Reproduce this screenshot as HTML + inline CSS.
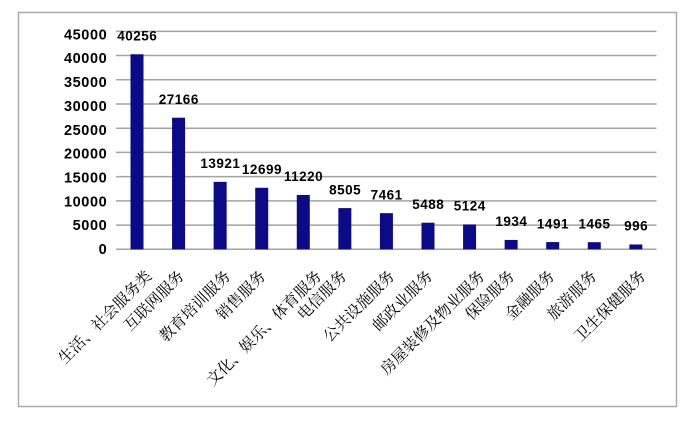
<!DOCTYPE html>
<html>
<head>
<meta charset="utf-8">
<style>
  html,body{margin:0;padding:0;background:#fff;}
  svg{display:block;}
  .yl{font-family:"Liberation Sans",Arial,sans-serif;font-weight:bold;font-size:14.5px;letter-spacing:0.6px;fill:#000;}
  .dl{font-family:"Liberation Sans",Arial,sans-serif;font-weight:bold;font-size:13.5px;letter-spacing:0.5px;fill:#000;}
  .cl{font-family:"Liberation Serif","Noto Serif CJK SC","Noto Sans CJK SC",serif;font-size:15.5px;fill:#000;}
</style>
</head>
<body>
<svg width="700" height="423" viewBox="0 0 700 423" xmlns="http://www.w3.org/2000/svg">
  <rect x="0" y="0" width="700" height="423" fill="#fff"/>
  <!-- frame -->
  <rect x="18.5" y="12.5" width="658" height="394" fill="#fff" stroke="#ababab" stroke-width="1.5"/>

  <!-- gridlines -->
  <g stroke="#a3a3a3" stroke-width="1.5">
    <line x1="116" x2="656.5" y1="249.3" y2="249.3"/>
    <line x1="116" x2="656.5" y1="225.08" y2="225.08"/>
    <line x1="116" x2="656.5" y1="200.86" y2="200.86"/>
    <line x1="116" x2="656.5" y1="176.64" y2="176.64"/>
    <line x1="116" x2="656.5" y1="152.42" y2="152.42"/>
    <line x1="116" x2="656.5" y1="128.2" y2="128.2"/>
    <line x1="116" x2="656.5" y1="103.98" y2="103.98"/>
    <line x1="116" x2="656.5" y1="79.76" y2="79.76"/>
    <line x1="116" x2="656.5" y1="55.54" y2="55.54"/>
    <line x1="116" x2="656.5" y1="31.32" y2="31.32"/>
  </g>

  <!-- y labels -->
  <g class="yl" text-anchor="end">
    <text x="107.3" y="254">0</text>
    <text x="107.3" y="230.15">5000</text>
    <text x="107.3" y="206.3">10000</text>
    <text x="107.3" y="182.45">15000</text>
    <text x="107.3" y="158.6">20000</text>
    <text x="107.3" y="134.75">25000</text>
    <text x="107.3" y="110.9">30000</text>
    <text x="107.3" y="87.05">35000</text>
    <text x="107.3" y="63.2">40000</text>
    <text x="107.3" y="39.35">45000</text>
  </g>

  <!-- bars -->
  <g fill="#0b0b8a">
    <rect x="130.5" y="54.28" width="13" height="195.02"/>
    <rect x="172.07" y="117.70" width="13" height="131.60"/>
    <rect x="213.64" y="181.86" width="13" height="67.44"/>
    <rect x="255.21" y="187.78" width="13" height="61.52"/>
    <rect x="296.78" y="194.95" width="13" height="54.35"/>
    <rect x="338.35" y="208.10" width="13" height="41.20"/>
    <rect x="379.92" y="213.16" width="13" height="36.14"/>
    <rect x="421.49" y="222.71" width="13" height="26.59"/>
    <rect x="463.06" y="224.48" width="13" height="24.82"/>
    <rect x="504.63" y="239.93" width="13" height="9.37"/>
    <rect x="546.20" y="242.08" width="13" height="7.22"/>
    <rect x="587.77" y="242.20" width="13" height="7.10"/>
    <rect x="629.34" y="244.47" width="13" height="4.83"/>
  </g>

  <!-- data labels -->
  <g class="dl" text-anchor="middle">
    <text x="137.25" y="40.5">40256</text>
    <text x="178.82" y="103.9">27166</text>
    <text x="220.39" y="168.06">13921</text>
    <text x="261.96" y="173.98">12699</text>
    <text x="303.53" y="181.15">11220</text>
    <text x="345.1" y="194.3">8505</text>
    <text x="386.67" y="199.36">7461</text>
    <text x="428.24" y="208.91">5488</text>
    <text x="469.81" y="210.68">5124</text>
    <text x="511.38" y="226.13">1934</text>
    <text x="552.95" y="228.28">1491</text>
    <text x="594.52" y="228.4">1465</text>
    <text x="636.09" y="230.67">996</text>
  </g>

  <!-- category labels -->
  <g class="cl" text-anchor="end">
    <text transform="translate(152.5,277) rotate(-45)">生活、社会服务类</text>
    <text transform="translate(185,277) rotate(-45)">互联网服务</text>
    <text transform="translate(231.5,277) rotate(-45)">教育培训服务</text>
    <text transform="translate(266.5,277) rotate(-45)">销售服务</text>
    <text transform="translate(322.5,277) rotate(-45)">文化、娱乐、体育服务</text>
    <text transform="translate(347.5,277) rotate(-45)">电信服务</text>
    <text transform="translate(395.5,277) rotate(-45)">公共设施服务</text>
    <text transform="translate(433.5,277) rotate(-45)">邮政业服务</text>
    <text transform="translate(485.5,277) rotate(-45)">房屋装修及物业服务</text>
    <text transform="translate(515.5,277) rotate(-45)">保险服务</text>
    <text transform="translate(555.5,277) rotate(-45)">金融服务</text>
    <text transform="translate(597.5,277) rotate(-45)">旅游服务</text>
    <text transform="translate(646.5,277) rotate(-45)">卫生保健服务</text>
  </g>
</svg>
</body>
</html>
